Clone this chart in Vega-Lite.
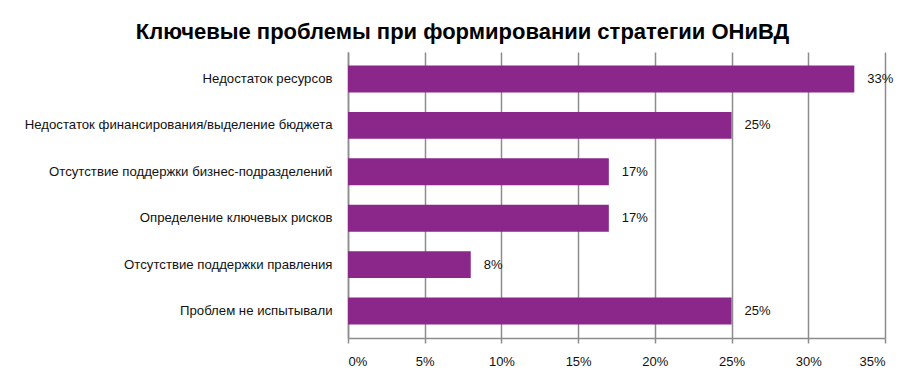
{
  "$schema": "https://vega.github.io/schema/vega-lite/v6.json",
  "width": 537,
  "height": 286,
  "autosize": {"type": "none"},
  "padding": {"left": 348, "top": 52, "right": 23, "bottom": 53},
  "background": "white",
  "title": {
    "text": "Ключевые проблемы при формировании стратегии ОНиВД",
    "font": "Liberation Sans",
    "fontSize": 22,
    "fontWeight": "bold",
    "color": "#000000",
    "anchor": "middle",
    "dx": -154,
    "offset": 8
  },
  "data": {
    "values": [
      {"problem": "Недостаток ресурсов", "value": 0.33},
      {"problem": "Недостаток финансирования/выделение бюджета", "value": 0.25},
      {"problem": "Отсутствие поддержки бизнес-подразделений", "value": 0.17},
      {"problem": "Определение ключевых рисков", "value": 0.17},
      {"problem": "Отсутствие поддержки правления", "value": 0.08},
      {"problem": "Проблем не испытывали", "value": 0.25}
    ]
  },
  "config": {
    "view": {"stroke": null},
    "font": "Liberation Sans",
    "axis": {
      "labelFont": "Liberation Sans",
      "labelColor": "#111111",
      "domainColor": "#8c8c8c",
      "domainWidth": 1.5,
      "tickColor": "#8c8c8c",
      "tickWidth": 1.5
    }
  },
  "encoding": {
    "y": {
      "field": "problem",
      "type": "nominal",
      "sort": null,
      "title": null,
      "scale": {"paddingInner": 0.42, "paddingOuter": 0.29},
      "axis": {
        "ticks": false,
        "labelFontSize": 13.2,
        "labelPadding": 16,
        "labelLimit": 400
      }
    },
    "x": {
      "field": "value",
      "type": "quantitative",
      "title": null,
      "scale": {"domain": [0, 0.35], "nice": false},
      "axis": {
        "values": [0, 0.05, 0.1, 0.15, 0.2, 0.25, 0.3, 0.35],
        "format": ".0%",
        "labelFontSize": 13,
        "labelPadding": 12,
        "tickSize": 5,
        "grid": true,
        "gridColor": "#8c8c8c",
        "gridWidth": 1.5
      }
    }
  },
  "layer": [
    {"mark": {"type": "bar", "color": "#8B268B"}},
    {
      "mark": {"type": "text", "align": "left", "dx": 13, "fontSize": 13, "color": "#111111", "font": "Liberation Sans"},
      "encoding": {"text": {"field": "value", "type": "quantitative", "format": ".0%"}}
    }
  ]
}
